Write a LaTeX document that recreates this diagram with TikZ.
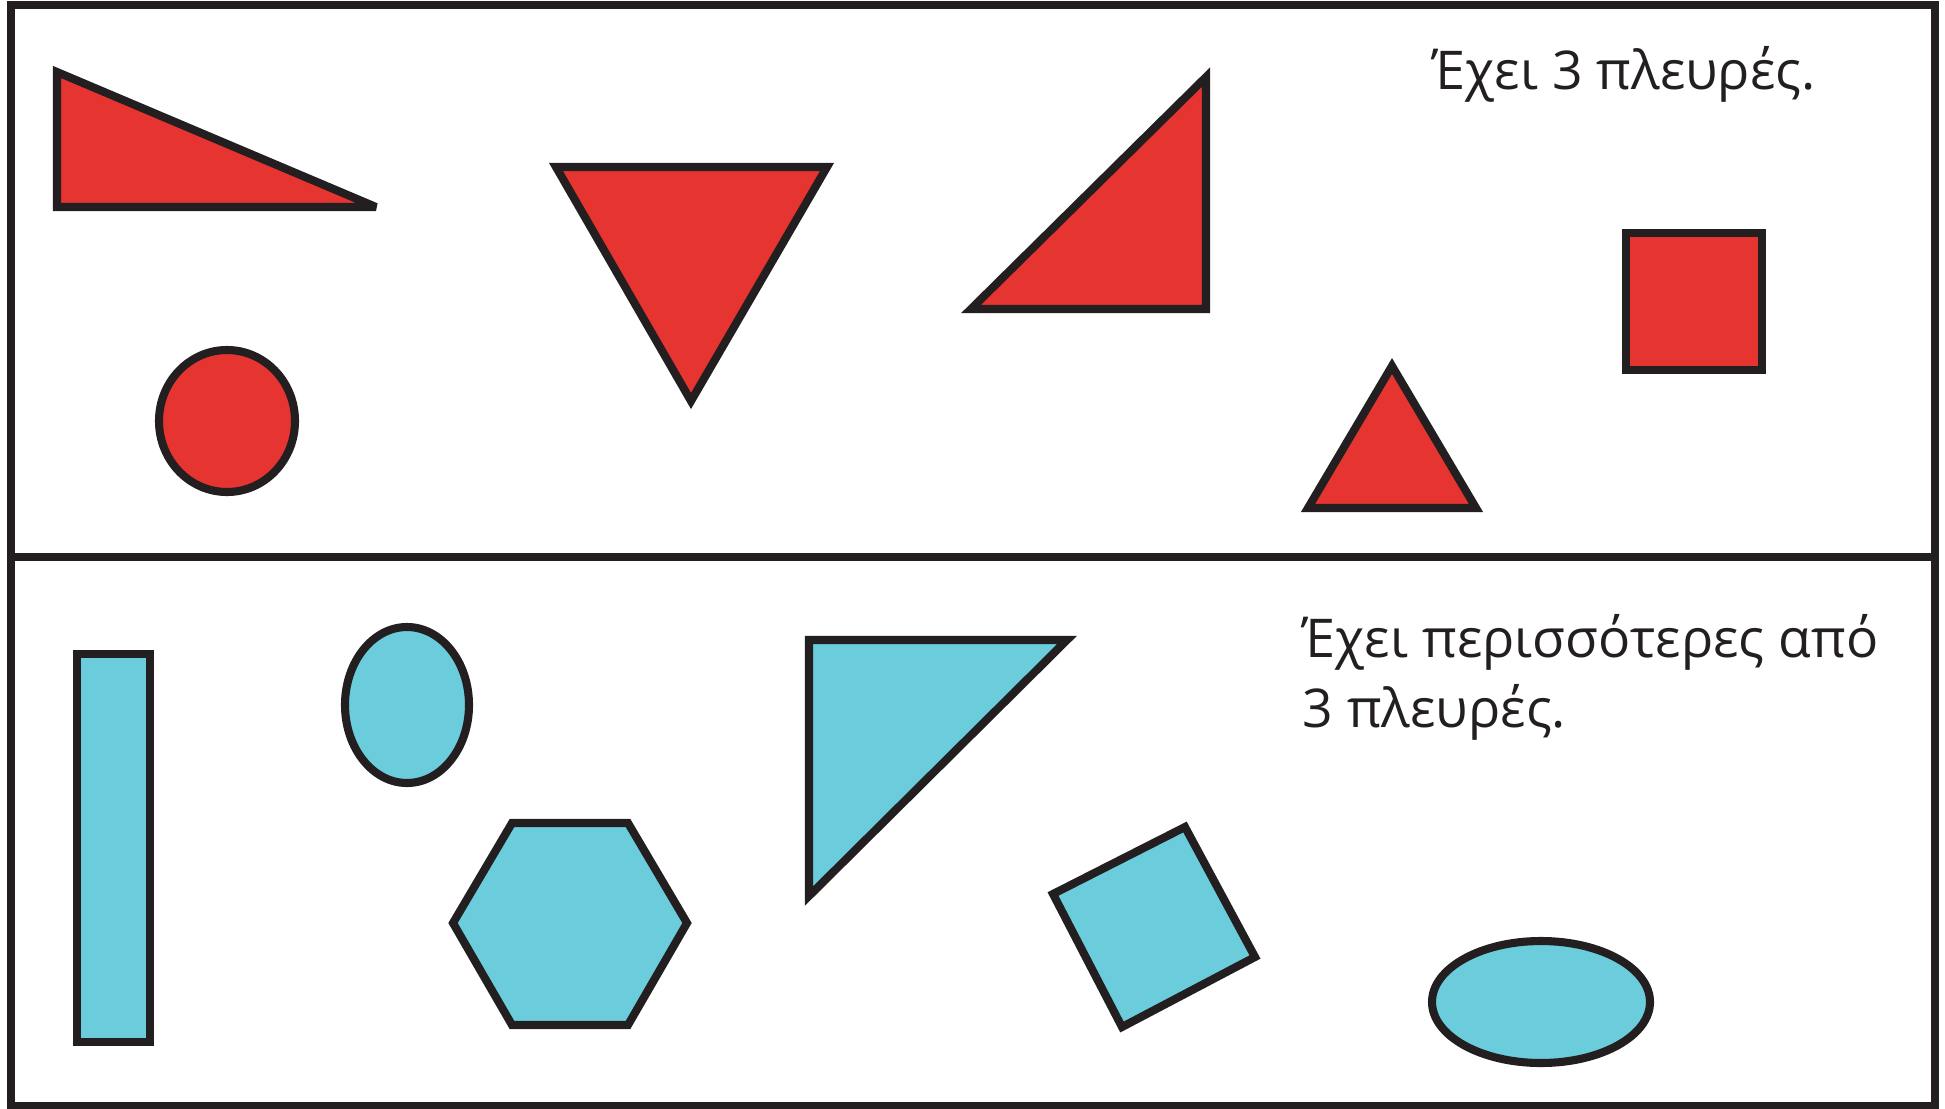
\documentclass[tikz,border=0pt]{standalone}
\usepackage{fontspec}
\setmainfont{Open Sans}
\usetikzlibrary{positioning}
\definecolor{shapered}{HTML}{E63431}
\definecolor{shapeblue}{HTML}{6BCCDC}
\definecolor{ink}{HTML}{231F20}

\begin{document}
\begin{tikzpicture}[x=0.01cm,y=-0.01cm,
  redshape/.style={fill=shapered,draw=ink,line width=2.3pt,line join=miter,miter limit=3},
  blueshape/.style={fill=shapeblue,draw=ink,line width=2.3pt,line join=miter,miter limit=3},
  caption/.style={anchor=base west,inner sep=0pt,text=ink,font=\fontsize{15.2}{15.2}\selectfont}]
  \useasboundingbox (0,0) rectangle (1945,1109);
  % frame with the two rows
  \draw[ink,line width=2.3pt] (11,5) rectangle (1935,1106);
  \draw[ink,line width=2.3pt] (11,557) -- (1935,557);

  % top row: red shapes
  \draw[redshape] (57,72) -- (57,207) -- (376,207) -- cycle;
  \draw[redshape] (227,421) ellipse [x radius=68,y radius=71];
  \draw[redshape] (556,167) -- (827,167) -- (691,401) -- cycle;
  \draw[redshape] (1206,77) -- (1206,309) -- (971,309) -- cycle;
  \draw[redshape] (1392,366) -- (1476,508) -- (1308,508) -- cycle;
  \draw[redshape] (1626,233) rectangle (1762,370);
  \node[caption] (threesides) at (1432,90) {Έχει 3 πλευρές.};

  % bottom row: blue shapes
  \draw[blueshape] (77,654) rectangle (150,1042);
  \draw[blueshape] (407,705) ellipse [x radius=62,y radius=78];
  \draw[blueshape] (512,823) -- (628,823) -- (687,923) -- (628,1025) -- (512,1025) -- (453,923) -- cycle;
  \draw[blueshape] (809,640) -- (1067,640) -- (809,896) -- cycle;
  \draw[blueshape] (1185,827) -- (1255,957) -- (1122,1027) -- (1053,894) -- cycle;
  \draw[blueshape] (1541,1002) ellipse [x radius=109,y radius=61];
  \node[caption] (moresides) at (1302,657) {Έχει περισσότερες από};
  \node[caption] (moresidesend) at ([yshift=-0.7cm]moresides.base west) {3 πλευρές.};
\end{tikzpicture}
\end{document}
